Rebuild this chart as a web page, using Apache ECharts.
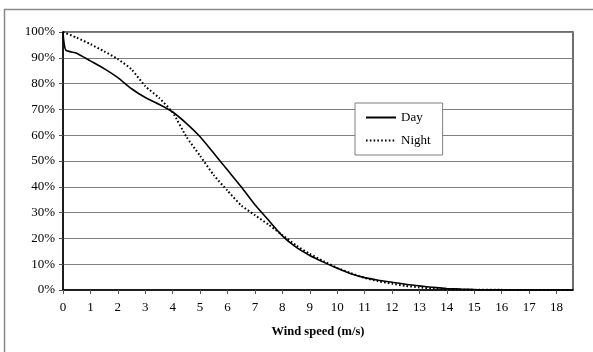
<!DOCTYPE html>
<html>
<head>
<meta charset="utf-8">
<script src="https://cdn.jsdelivr.net/npm/echarts@6/dist/echarts.min.js"></script>
<style>
  html, body { margin: 0; padding: 0; background: #fff; }
  #chart { width: 593px; height: 352px; }
</style>
</head>
<body>
<div id="chart"></div>
<script>
// wind speed (m/s) sample points
const daySpeed = [0, 0.1, 0.5, 1, 1.5, 2, 2.5, 3, 3.5, 4, 4.5, 5, 5.5, 6, 6.5, 7, 7.5, 8, 8.5, 9, 9.5, 10, 10.5, 11, 11.5, 12, 12.5, 13, 13.5, 14, 14.5, 15, 16, 17, 18, 18.6]
const dayPct = [100, 93, 91.8, 88.8, 85.8, 82.3, 78, 74.6, 72, 69, 64.6, 59.4, 53, 46.5, 40, 33, 27, 21, 16.6, 13.4, 10.8, 8.4, 6.3, 4.8, 3.8, 3, 2.2, 1.6, 1.0, 0.6, 0.35, 0.2, 0.05, 0, 0, 0]
const nightSpeed = [0, 0.5, 1, 1.5, 2, 2.5, 3, 3.5, 4, 4.5, 5, 5.5, 6, 6.5, 7, 7.5, 8, 8.5, 9, 9.5, 10, 10.5, 11, 11.5, 12, 12.5, 13, 13.5, 14, 14.5, 15, 16, 17, 18, 18.6]
const nightPct = [100, 97.8, 95.3, 92.5, 89.5, 85.5, 79, 74.5, 68.8, 59.4, 52, 44.5, 38.5, 32.8, 29, 25.3, 21.3, 17.3, 14, 11.2, 8.6, 6.5, 4.7, 3.4, 2.4, 1.6, 1.0, 0.55, 0.3, 0.15, 0.1, 0.05, 0.02, 0, 0]
const yTicks = [0, 10, 20, 30, 40, 50, 60, 70, 80, 90, 100]

const toPairs = (xs, ys) => xs.map((x, i) => [x, ys[i]])

const chart = echarts.init(document.getElementById('chart'))
const font = 'Liberation Serif'

const option = {
  animation: false,
  textStyle: { fontFamily: font },
  graphic: [
    { type: 'line', shape: { x1: 4, y1: 9.5, x2: 593, y2: 9.5 }, style: { stroke: '#888', lineWidth: 1.5 } },
    { type: 'line', shape: { x1: 4.5, y1: 9, x2: 4.5, y2: 352 }, style: { stroke: '#888', lineWidth: 1.5 } }
  ],
  grid: {
    left: 63,
    top: 32,
    right: 20,
    bottom: 62,
    show: true,
    borderColor: '#404040',
    borderWidth: 1.5
  },
  legend: {
    left: 355,
    top: 103,
    orient: 'vertical',
    backgroundColor: '#fff',
    borderColor: '#808080',
    borderWidth: 1,
    padding: [8, 12, 8, 10],
    itemGap: 10,
    itemWidth: 30,
    itemHeight: 10,
    itemStyle: { color: 'rgba(0,0,0,0)', borderColor: 'rgba(0,0,0,0)', borderWidth: 0 },
    textStyle: { fontFamily: font, fontSize: 13, color: '#000' },
    data: ['Day', 'Night']
  },
  xAxis: {
    type: 'value',
    min: 0,
    max: 18.6,
    interval: 1,
    name: 'Wind speed (m/s)',
    nameLocation: 'middle',
    nameGap: 35,
    nameTextStyle: { fontFamily: font, fontSize: 12.5, fontWeight: 'bold', color: '#000' },
    axisLine: { lineStyle: { color: '#000', width: 1.5 } },
    axisTick: { show: true, length: 4, inside: false, lineStyle: { color: '#555' } },
    axisLabel: { color: '#000', fontSize: 13, margin: 11, showMaxLabel: false },
    splitLine: { show: false }
  },
  yAxis: {
    type: 'value',
    min: 0,
    max: 100,
    interval: 10,
    axisLine: { show: true, lineStyle: { color: '#000', width: 1.5 } },
    axisTick: { show: true, length: 4, lineStyle: { color: '#555' } },
    axisLabel: {
      color: '#000',
      fontSize: 13,
      margin: 8,
      formatter: v => (yTicks.includes(v) ? v + '%' : '')
    },
    splitLine: { lineStyle: { color: '#808080', width: 1 } }
  },
  series: [
    {
      name: 'Day',
      type: 'line',
      data: toPairs(daySpeed, dayPct),
      smooth: 0.2,
      showSymbol: false,
      symbol: 'none',
      itemStyle: { color: '#000' },
      lineStyle: { color: '#000', width: 1.6 }
    },
    {
      name: 'Night',
      type: 'line',
      data: toPairs(nightSpeed, nightPct),
      smooth: 0.2,
      showSymbol: false,
      symbol: 'none',
      itemStyle: { color: '#000' },
      lineStyle: { color: '#000', width: 2, type: [1.6, 2.2] }
    }
  ]
}
chart.setOption(option)
</script>
</body>
</html>
